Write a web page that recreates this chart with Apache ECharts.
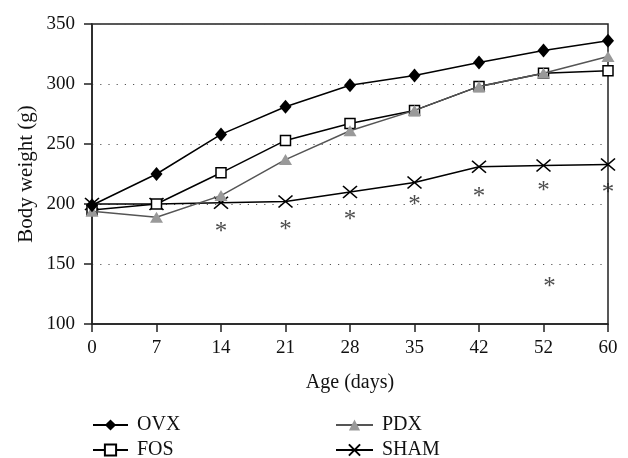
<!DOCTYPE html>
<html>
<head>
<meta charset="utf-8">
<script src="https://cdn.jsdelivr.net/npm/echarts@6/dist/echarts.min.js"></script>
<style>
    html, body { margin: 0; padding: 0; background: #fff; }
    #chart { width: 628px; height: 458px; }
</style>
</head>
<body>
<div id="chart"></div>
<script>
    // 体重随时间变化
    const ages = ['0', '7', '14', '21', '28', '35', '42', '52', '60'];
    const ovx = [199, 225, 258, 281, 299, 307, 318, 328, 336];
    const fos = [195, 200, 226, 253, 267, 278, 298, 309, 311];
    const pdx = [194, 189, 207, 237, 261, 278, 298, 309, 323];
    const sham = [200, 200, 201, 202, 210, 218, 231, 232, 233];
    // significance marks: [age, weight]
    const stars = [['14', 182], ['21', 184], ['28', 192], ['35', 205], ['42', 211], ['52', 216], ['60', 215], ['52', 136]];
    const yTicks = { min: 100, max: 350, step: 50 };

    const font = 'Liberation Serif';
    const chart = echarts.init(document.getElementById('chart'));

    const crossPath = 'path://M0,0L10,10M10,0L0,10';

    // one legend per entry so they sit in two columns
    const legendAt = (name, left, top, width) => ({
        data: [name],
        left,
        top,
        itemWidth: width,
        itemHeight: 14,
        textStyle: { fontFamily: font, fontSize: 20, color: '#111', padding: [0, 0, 0, 4] }
    });

    const option = {
        animation: false,
        textStyle: { fontFamily: font },
        grid: {
            left: 92,
            right: 20,
            top: 24,
            bottom: 134,
            show: true,
            borderColor: '#222',
            borderWidth: 1.5
        },
        legend: [
            legendAt('OVX', 87, 410, 35),
            legendAt('FOS', 87, 435, 35),
            legendAt('PDX', 330, 410, 37),
            legendAt('SHAM', 330, 435, 37)
        ],
        xAxis: {
            type: 'category',
            data: ages,
            boundaryGap: false,
            name: 'Age (days)',
            nameLocation: 'middle',
            nameGap: 49,
            nameTextStyle: { fontFamily: font, fontSize: 20, color: '#111' },
            axisLine: { lineStyle: { color: '#222', width: 1.5 } },
            axisTick: { length: 8, lineStyle: { color: '#222', width: 1.5 } },
            axisLabel: { fontFamily: font, fontSize: 19, color: '#111', margin: 15 },
            splitLine: { show: false }
        },
        yAxis: {
            type: 'value',
            min: yTicks.min,
            max: yTicks.max,
            interval: yTicks.step,
            name: 'Body weight (g)',
            nameLocation: 'middle',
            nameGap: 55,
            nameMoveOverlap: false,
            nameTextStyle: { fontFamily: font, fontSize: 21, color: '#111' },
            axisLine: { show: true, lineStyle: { color: '#222', width: 1.5 } },
            axisTick: { show: true, length: 8, lineStyle: { color: '#222', width: 1.5 } },
            axisLabel: { fontFamily: font, fontSize: 19, color: '#111', margin: 17 },
            splitLine: { show: true, lineStyle: { color: '#555', width: 1.2, type: [1.2, 7] } }
        },
        series: [
            {
                name: 'SHAM',
                type: 'line',
                data: sham,
                symbol: crossPath,
                symbolSize: [14, 12],
                lineStyle: { color: '#000', width: 1.5 },
                itemStyle: { color: '#000', borderColor: '#000', borderWidth: 1.5 },
                z: 2
            },
            {
                name: 'FOS',
                type: 'line',
                data: fos,
                symbol: 'rect',
                symbolSize: 10,
                lineStyle: { color: '#000', width: 1.5 },
                itemStyle: { color: '#fff', borderColor: '#000', borderWidth: 1.5 },
                z: 3
            },
            {
                name: 'PDX',
                type: 'line',
                data: pdx,
                symbol: 'triangle',
                symbolSize: [13, 11],
                lineStyle: { color: '#555', width: 1.5 },
                itemStyle: { color: '#999', borderColor: '#999', borderWidth: 0 },
                z: 4
            },
            {
                name: 'OVX',
                type: 'line',
                data: ovx,
                symbol: 'diamond',
                symbolSize: [12, 14],
                lineStyle: { color: '#000', width: 1.5 },
                itemStyle: { color: '#000', borderColor: '#000', borderWidth: 0 },
                z: 5
            },
            {
                name: 'stars',
                type: 'scatter',
                symbolSize: 1,
                itemStyle: { color: 'rgba(0,0,0,0)' },
                data: stars.map((s, i) => ({
                    value: s,
                    label: i === stars.length - 1 ? { offset: [6, 7] } : undefined
                })),
                label: {
                    show: true,
                    position: 'inside',
                    formatter: '*',
                    fontFamily: font,
                    fontSize: 25,
                    color: '#222',
                    offset: [0, 7]
                },
                silent: true,
                z: 6
            }
        ]
    };

    chart.setOption(option);
</script>
</body>
</html>
